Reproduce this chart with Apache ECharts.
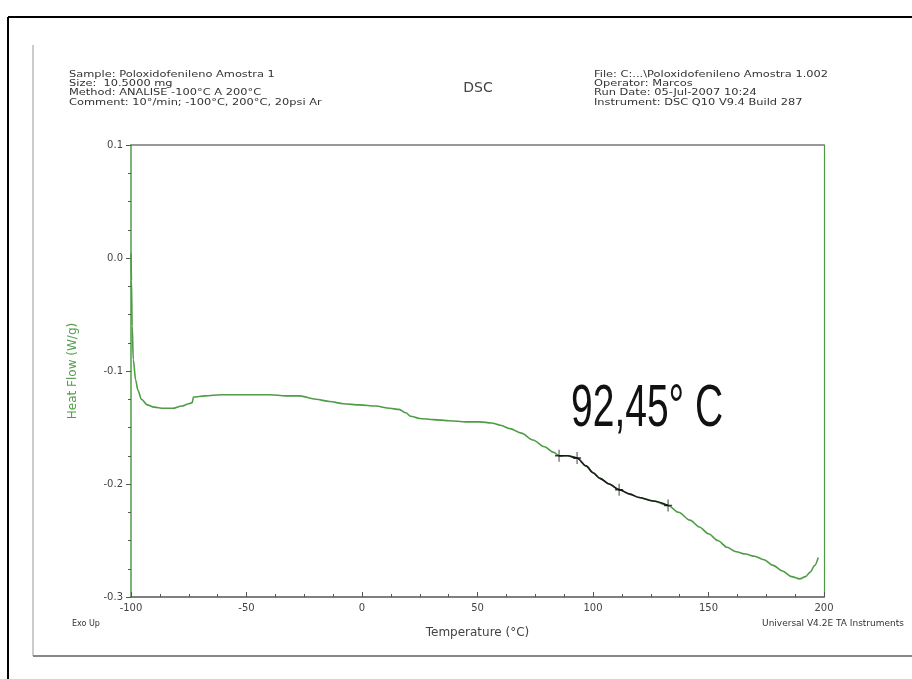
<!DOCTYPE html>
<html>
<head>
<meta charset="utf-8">
<title>DSC</title>
<script src="https://cdn.jsdelivr.net/npm/echarts@6.0.0/dist/echarts.min.js"></script>
<style>
    html, body { margin: 0; padding: 0; background: #fff; }
    #chart { width: 912px; height: 679px; }
</style>
</head>
<body>
<div id="chart"></div>
<script>
// temperature (°C) and heat flow (W/g)
var temps = [-100, -99.8, -99.5, -99, -98, -97, -95.5, -93, -90, -86, -82, -78, -75, -73.5, -73,
    -68, -61, -54, -47, -40, -33, -27, -20, -14, -8, -1, 6, 12, 16, 19, 21, 25, 31, 38, 45, 51,
    56, 60, 64, 69, 74, 79, 83, 85.3, 89, 93.1, 97, 100, 103, 107, 111.3, 116, 120, 126, 132.5,
    137, 142, 146, 150, 154, 158, 162, 166, 170, 174, 178, 182, 186, 189.5, 192, 194, 196, 197.5];
var heatFlow = [0.004, -0.02, -0.06, -0.09, -0.108, -0.117, -0.125, -0.130, -0.132, -0.133, -0.133,
    -0.131, -0.129, -0.128, -0.123, -0.122, -0.121, -0.121, -0.121, -0.121, -0.122, -0.122, -0.125,
    -0.127, -0.129, -0.130, -0.131, -0.133, -0.134, -0.137, -0.140, -0.142, -0.143, -0.144, -0.145,
    -0.145, -0.146, -0.148, -0.151, -0.155, -0.161, -0.167, -0.172, -0.175, -0.175, -0.177, -0.184,
    -0.190, -0.195, -0.200, -0.205, -0.209, -0.212, -0.215, -0.219, -0.225, -0.232, -0.238, -0.244,
    -0.250, -0.256, -0.260, -0.262, -0.264, -0.267, -0.272, -0.277, -0.282, -0.284, -0.282, -0.278,
    -0.272, -0.265];

// analysis markers (glass transition region)
var markerTemps = [85.3, 93.1, 111.3, 132.5];
var markerHeatFlow = [-0.175, -0.177, -0.205, -0.219];

var xTicks = { min: -100, max: 200, interval: 50 };
var yTicks = { min: -0.3, max: 0.1, interval: 0.1 };

var headerLeft = [
    'Sample: Poloxidofenileno Amostra 1',
    'Size:  10.5000 mg',
    'Method: ANALISE -100°C A 200°C',
    'Comment: 10°/min; -100°C, 200°C, 20psi Ar'
];
var headerRight = [
    'File: C:...\\Poloxidofenileno Amostra 1.002',
    'Operator: Marcos',
    'Run Date: 05-Jul-2007 10:24',
    'Instrument: DSC Q10 V9.4 Build 287'
];

var green = '#4f9c47';
var textGrey = '#444';
var font = 'DejaVu Sans';

var curve = [];
var highlight = [];
for (var i = 0; i < temps.length; i++) {
    curve.push([temps[i], heatFlow[i]]);
    if (temps[i] >= markerTemps[0] && temps[i] <= markerTemps[markerTemps.length - 1]) {
        highlight.push([temps[i], heatFlow[i]]);
    }
}
var markers = [];
for (var j = 0; j < markerTemps.length; j++) {
    markers.push([markerTemps[j], markerHeatFlow[j]]);
}

var chart = echarts.init(document.getElementById('chart'));

chart.setOption({
    backgroundColor: '#fff',
    animation: false,
    grid: { left: 131, right: 88, top: 145, bottom: 82 },
    xAxis: [{
        type: 'value',
        position: 'bottom',
        min: xTicks.min, max: xTicks.max, interval: xTicks.interval,
        name: 'Temperature (°C)',
        nameLocation: 'middle',
        nameGap: 30,
        nameTextStyle: { color: textGrey, fontFamily: font, fontSize: 12 },
        axisLine: { onZero: false, lineStyle: { color: '#555', width: 1.5 } },
        axisTick: { inside: true, length: 5, lineStyle: { color: '#555' } },
        minorTick: { show: true, splitNumber: 4, length: 3, lineStyle: { color: '#555' } },
        axisLabel: { color: textGrey, fontFamily: font, fontSize: 10, margin: 6 },
        splitLine: { show: false }
    }, {
        type: 'value',
        position: 'top',
        min: xTicks.min, max: xTicks.max,
        axisLine: { onZero: false, lineStyle: { color: '#777', width: 1.5 } },
        axisTick: { show: false },
        axisLabel: { show: false },
        splitLine: { show: false }
    }],
    yAxis: [{
        type: 'value',
        position: 'left',
        min: yTicks.min, max: yTicks.max, interval: yTicks.interval,
        name: 'Heat Flow (W/g)',
        nameLocation: 'middle',
        nameGap: 52,
        nameTextStyle: { color: green, fontFamily: font, fontSize: 12 },
        axisLine: { onZero: false, lineStyle: { color: green, width: 1.5 } },
        axisTick: { length: 5, lineStyle: { color: '#555' } },
        minorTick: { show: true, splitNumber: 4, length: 3, lineStyle: { color: '#555' } },
        axisLabel: {
            color: textGrey, fontFamily: font, fontSize: 10, margin: 8,
            formatter: function (v) {
                if (Math.abs(v) < 1e-9) return '0.0';
                return v.toFixed(1);
            }
        },
        splitLine: { show: false }
    }, {
        type: 'value',
        position: 'right',
        min: yTicks.min, max: yTicks.max,
        axisLine: { show: true, onZero: false, lineStyle: { color: green, width: 1.2 } },
        axisTick: { show: false },
        axisLabel: { show: false },
        splitLine: { show: false }
    }],
    series: [{
        type: 'line',
        data: curve,
        showSymbol: false,
        smooth: 0.3,
        smoothMonotone: 'x',
        lineStyle: { color: green, width: 1.6 },
        z: 2
    }, {
        type: 'line',
        data: highlight,
        showSymbol: false,
        smooth: 0.3,
        smoothMonotone: 'x',
        lineStyle: { color: '#1c1c1c', width: 1.6 },
        z: 3
    }, {
        type: 'scatter',
        data: markers,
        symbol: 'path://M5,0 L5,12 M1,6 L9,6',
        symbolSize: [8, 12],
        itemStyle: { color: 'none', borderColor: '#111', borderWidth: 1.2 },
        z: 4
    }],
    graphic: [
        // page frame
        { type: 'line', shape: { x1: 8, y1: 17, x2: 912, y2: 17 }, style: { stroke: '#000', lineWidth: 2 } },
        { type: 'line', shape: { x1: 8, y1: 17, x2: 8, y2: 679 }, style: { stroke: '#000', lineWidth: 2 } },
        { type: 'line', shape: { x1: 33, y1: 45, x2: 33, y2: 656 }, style: { stroke: '#bbb', lineWidth: 1.5 } },
        { type: 'line', shape: { x1: 33, y1: 656, x2: 912, y2: 656 }, style: { stroke: '#888', lineWidth: 2 } },
        {
            type: 'text', x: 69, y: 70, scaleX: 1.2,
            style: { text: headerLeft.join('\n'), font: '9.5px "DejaVu Sans"', lineHeight: 9.2, fill: '#333' }
        },
        {
            type: 'text', x: 594, y: 70, scaleX: 1.2,
            style: { text: headerRight.join('\n'), font: '9.5px "DejaVu Sans"', lineHeight: 9.2, fill: '#333' }
        },
        {
            type: 'text', x: 478, y: 88,
            style: { text: 'DSC', font: '14px "DejaVu Sans"', fill: textGrey, textAlign: 'center', textVerticalAlign: 'middle' }
        },
        {
            type: 'text', x: 72, y: 624,
            style: { text: 'Exo Up', font: '8px "DejaVu Sans"', fill: '#333', textVerticalAlign: 'middle' }
        },
        {
            type: 'text', x: 904, y: 624,
            style: { text: 'Universal V4.2E TA Instruments', font: '9px "DejaVu Sans"', fill: '#333', textAlign: 'right', textVerticalAlign: 'middle' }
        },
        {
            type: 'text', x: 571, y: 409, scaleX: 0.65,
            style: { text: '92,45° C', font: '60px "Liberation Sans"', fill: '#111', textVerticalAlign: 'middle' },
            z: 10
        }
    ]
});
</script>
</body>
</html>
